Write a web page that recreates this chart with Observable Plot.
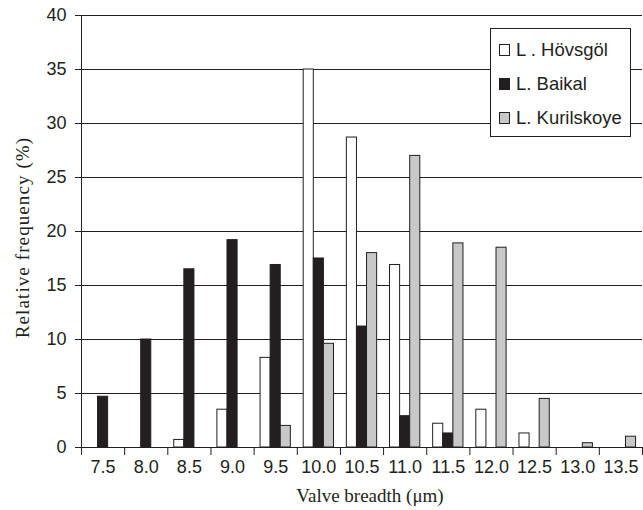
<!DOCTYPE html>
<html><head><meta charset="utf-8">
<script src="https://cdn.jsdelivr.net/npm/d3@7"></script>
<script src="https://cdn.jsdelivr.net/npm/@observablehq/plot@0.6"></script>
<style>
body{margin:0;background:#fff;}
#wrap{position:relative;width:643px;height:510px;}
.legend{position:absolute;left:490px;top:28px;width:139px;height:107px;border:1px solid #231f20;background:#fff;font-family:"Liberation Sans",Arial,sans-serif;font-size:18.5px;color:#231f20;}
.item{position:absolute;left:8px;height:22px;display:flex;align-items:center;white-space:pre;}
.sw{width:9px;height:10px;border:1px solid #231f20;margin-right:6px;}
</style></head>
<body><div id="wrap"></div>
<script>
const bins = [7.5, 8.0, 8.5, 9.0, 9.5, 10.0, 10.5, 11.0, 11.5, 12.0, 12.5, 13.0, 13.5];
const seriesNames = ["L. Hövsgöl", "L. Baikal", "L. Kurilskoye"];
const legendLabels = ["L . Hövsgöl", "L. Baikal", "L. Kurilskoye"];
const hovsgol   = [0, 0, 0.7, 3.5, 8.3, 35.0, 28.7, 16.9, 2.2, 3.5, 1.3, 0, 0];
const baikal    = [4.7, 10.0, 16.5, 19.2, 16.9, 17.5, 11.2, 2.9, 1.3, 0, 0, 0, 0];
const kurilskoye= [0, 0, 0, 0, 2.0, 9.6, 18.0, 27.0, 18.9, 18.5, 4.5, 0.4, 1.0];
const yTicks = [0, 5, 10, 15, 20, 25, 30, 35, 40];
const fills = ["#ffffff", "#231f20", "#c8c8c8"];
const xTitle = "Valve breadth (μm)";
const yTitle = "Relative frequency (%)";

const values = [hovsgol, baikal, kurilskoye];
const half = 0.25;           // half a category width in data units
const barW = 0.117;          // one bar's width in data units
const rows = [];
seriesNames.forEach((s, i) => values[i].forEach((v, j) => {
  if (v > 0) rows.push({series: s, bin: bins[j], value: v,
    x1: bins[j] + (i - 1.5) * barW, x2: bins[j] + (i - 0.5) * barW});
}));
const boundaries = bins.map(b => b - half).concat([bins[bins.length - 1] + half]);

const sans = "'Liberation Sans', Arial, sans-serif";
const serif = "'Liberation Serif', 'Times New Roman', serif";

const chart = Plot.plot({
  width: 643, height: 510,
  marginLeft: 81, marginRight: 1, marginTop: 15, marginBottom: 63,
  style: {background: "#fff", color: "#231f20"},
  x: {domain: [boundaries[0], boundaries[boundaries.length - 1]], axis: null},
  y: {domain: [0, 40], axis: null},
  color: {domain: seriesNames, range: fills},
  marks: [
    Plot.ruleY(yTicks, {stroke: "#231f20", strokeWidth: 1}),
    Plot.rect(rows, {x1: "x1", x2: "x2", y1: 0, y2: "value", fill: "series", stroke: "#231f20", strokeWidth: 1}),
    Plot.frame({anchor: "left", stroke: "#231f20"}),
    Plot.axisY(yTicks, {anchor: "left", tickSize: 6, tickPadding: 9, fontSize: 18, fontFamily: sans, label: null, stroke: "#231f20"}),
    Plot.axisX(boundaries, {anchor: "bottom", tickSize: 8, tickFormat: () => "", label: null, stroke: "#231f20"}),
    Plot.axisX(bins, {anchor: "bottom", tickSize: 0, tickPadding: 13, tickFormat: d => d.toFixed(1), fontSize: 18, fontFamily: sans, label: null}),
    Plot.text([xTitle], {frameAnchor: "bottom", textAnchor: "middle", dy: 54, dx: 8, fontSize: 19, fontFamily: serif, fill: "#231f20"}),
    Plot.text([yTitle], {frameAnchor: "left", textAnchor: "middle", rotate: -90, dx: -59, dy: 6, fontSize: 19, fontFamily: serif, fill: "#231f20"})
  ]
});
d3.select(chart).selectAll("text").filter(function() { return this.textContent === yTitle; }).attr("letter-spacing", "1.1");
const wrap = document.getElementById("wrap");
wrap.appendChild(chart);

const legend = document.createElement("div");
legend.className = "legend";
const tops = [10, 43.5, 78];
legendLabels.forEach((lab, i) => {
  const it = document.createElement("div");
  it.className = "item";
  it.style.top = tops[i] + "px";
  const sw = document.createElement("span");
  sw.className = "sw";
  sw.style.background = fills[i];
  it.appendChild(sw);
  it.appendChild(document.createTextNode(lab));
  legend.appendChild(it);
});
wrap.appendChild(legend);
</script>
</body></html>
